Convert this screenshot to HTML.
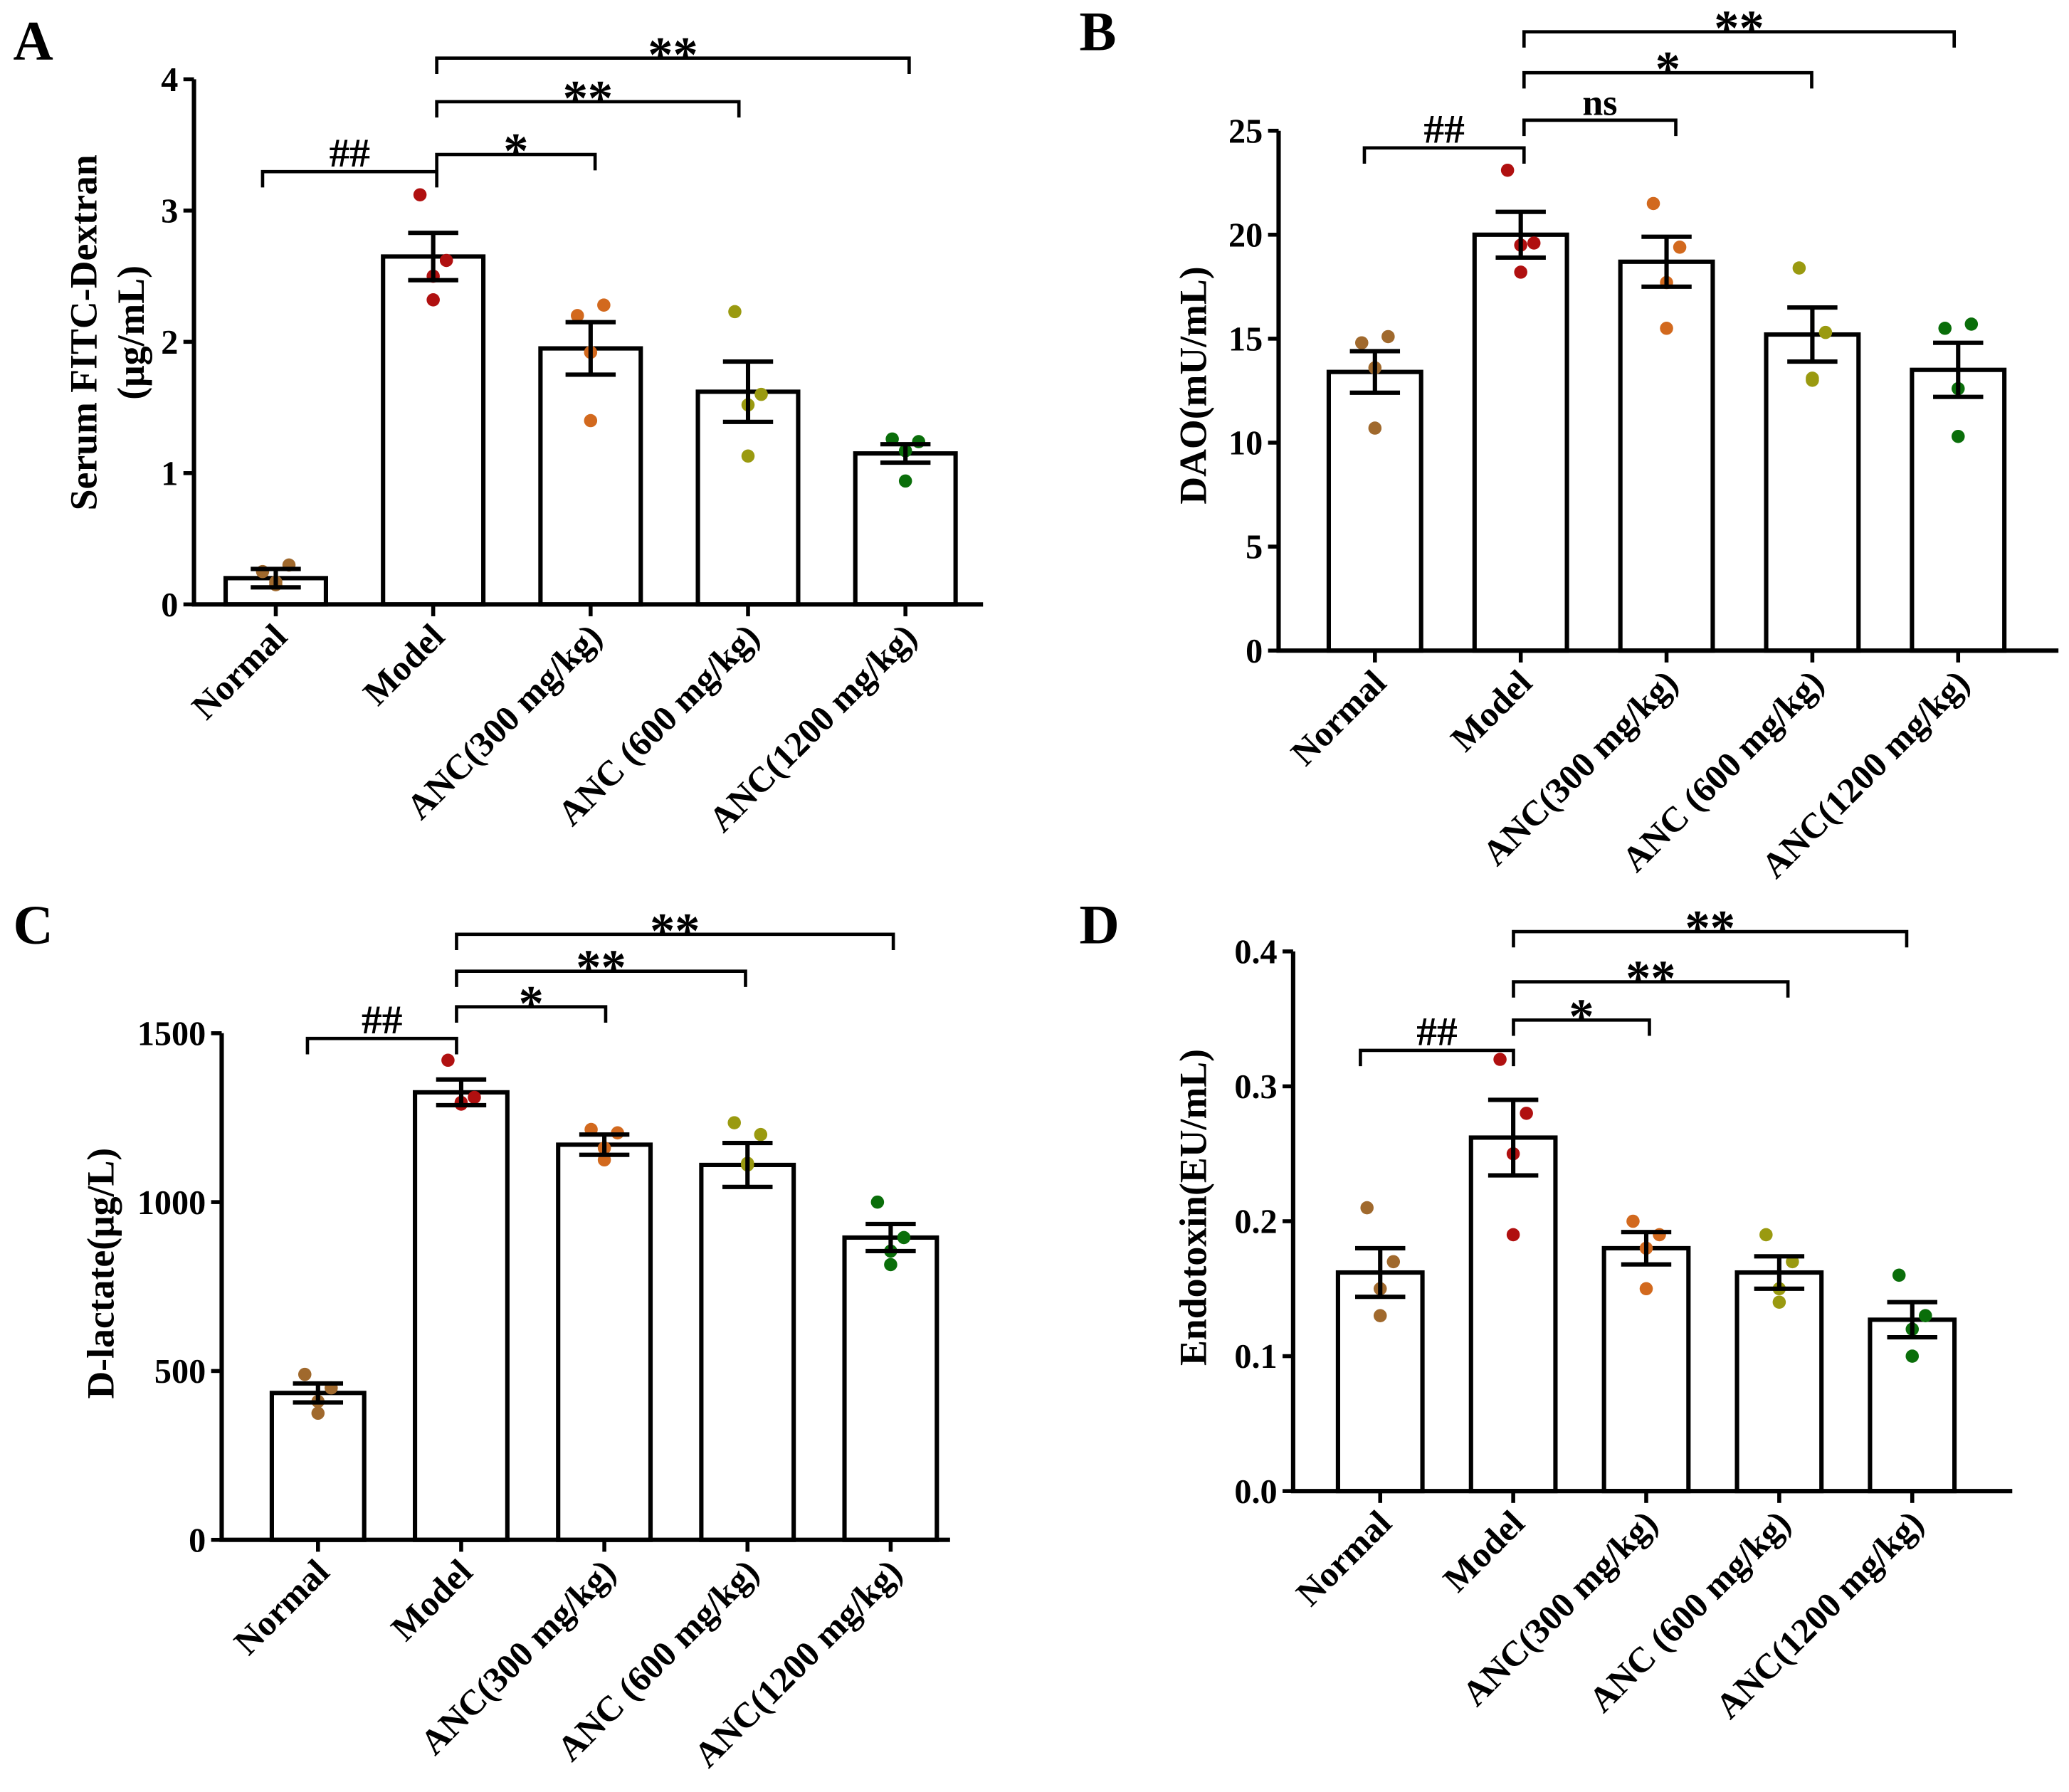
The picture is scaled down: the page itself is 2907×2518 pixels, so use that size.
<!DOCTYPE html>
<html><head><meta charset="utf-8"><style>
html,body{margin:0;padding:0;background:#fff;}
svg{display:block;font-family:"Liberation Serif",serif;font-weight:bold;}
</style></head><body>
<svg id="fig" width="2907" height="2518" viewBox="0 0 1568 1358" xmlns="http://www.w3.org/2000/svg"></svg>
<script>
const categories = ["Normal","Model","ANC(300 mg/kg)","ANC (600 mg/kg)","ANC(1200 mg/kg)"];
const colors = ["#a0692d","#b01010","#d2691e","#9a9a10","#0a6e0a"];

const aMeans = [0.2,2.65,1.95,1.62,1.15];
const aSem = [0.07,0.18,0.2,0.23,0.07];
const aPoints = [[0.25,0.3,0.17,0.15],[3.12,2.62,2.5,2.32],[2.2,2.28,1.92,1.4],[2.23,1.6,1.52,1.13],[1.26,1.24,1.17,0.94]];
const aTicks = [0,1,2,3,4];

const bMeans = [13.4,20,18.7,15.2,13.5];
const bSem = [1,1.1,1.2,1.3,1.3];
const bPoints = [[14.8,15.1,13.6,10.7],[23.1,19.6,19.5,18.2],[21.5,19.4,17.7,15.5],[18.4,15.3,13,13.1],[15.5,15.7,12.6,10.3]];
const bTicks = [0,5,10,15,20,25];

const cMeans = [435,1325,1170,1110,895];
const cSem = [28,38,30,65,40];
const cPoints = [[490,450,410,375],[1420,1310,1295,1290],[1215,1205,1160,1125],[1235,1200,1115,1110],[1000,895,855,815]];
const cTicks = [0,500,1000,1500];

const dMeans = [0.162,0.262,0.18,0.162,0.127];
const dSem = [0.018,0.028,0.012,0.012,0.013];
const dPoints = [[0.21,0.17,0.15,0.13],[0.32,0.28,0.25,0.19],[0.2,0.19,0.18,0.15],[0.19,0.17,0.15,0.14],[0.16,0.13,0.12,0.10]];
const dTicks = ["0.0","0.1","0.2","0.3","0.4"];

const svg = document.getElementById('fig');
const NS = "http://www.w3.org/2000/svg";
function mk(tag, attrs, parent){
  const e = document.createElementNS(NS, tag);
  for (const k in attrs) e.setAttribute(k, attrs[k]);
  (parent||svg).appendChild(e);
  return e;
}

function panel(cfg){
  const g = mk('g', {});
  
  
  const y = v => cfg.y0 - (v - cfg.min) / (cfg.max - cfg.min) * (cfg.y0 - cfg.yTop);
  const cx = i => cfg.c0 + cfg.step * i;
  const L = mk('text', {x: cfg.lx, y: cfg.ly, 'font-size': 42}, g);
  L.textContent = cfg.letter;
  
  
  cfg.means.forEach((m, i) => {
    const r = mk('rect', {x: cx(i) - cfg.bw/2, y: y(m), width: cfg.bw, height: cfg.y0 - y(m), fill: '#fff', stroke: '#000', 'stroke-width': 3.3}, g);
    
    
  });
  const offs = [-10, 10, 0, 0];
  cfg.points.forEach((ps, i) => {
    ps.forEach((p, j) => {
      const c = mk('circle', {cx: cx(i) + offs[j], cy: y(p), r: 5, fill: colors[i]}, g);
      
      
    });
  });
  cfg.means.forEach((m, i) => {
    const hi = y(m + cfg.sem[i]), lo = y(m - cfg.sem[i]);
    const e = mk('path', {d: `M${cx(i)},${hi}V${lo}M${cx(i)-19},${hi}H${cx(i)+19}M${cx(i)-19},${lo}H${cx(i)+19}`, stroke: '#000', 'stroke-width': 3.3, fill: 'none'}, g);
    
    
  });
  const ax = mk('path', {d: `M${cfg.x0},${cfg.yTop}V${cfg.y0}H${cfg.xEnd}`, stroke: '#000', 'stroke-width': 3.3, fill: 'none'}, g);
  
  
  cfg.ticks.forEach(t => {
    const ty = y(parseFloat(t));
    mk('line', {x1: cfg.x0 - 8, x2: cfg.x0, y1: ty, y2: ty, stroke: '#000', 'stroke-width': 3}, g);
    const tl = mk('text', {x: cfg.x0 - 12, y: ty + 9, 'font-size': 26, 'text-anchor': 'end'}, g);
    tl.textContent = t;
    
    
  });
  categories.forEach((c, i) => {
    mk('line', {x1: cx(i), x2: cx(i), y1: cfg.y0, y2: cfg.y0 + 9, stroke: '#000', 'stroke-width': 3}, g);
    const tx = cx(i) + 10, ty = cfg.y0 + 26;
    const cl = mk('text', {x: tx, y: ty, 'font-size': 27, 'text-anchor': 'end', transform: `rotate(-45 ${tx} ${ty})`}, g);
    cl.textContent = c;
    
    
  });
  cfg.ytitle.forEach((t, k) => {
    const yx = cfg.ytx + k * 36, yy = cfg.yty;
    const yt = mk('text', {x: yx, y: yy, 'font-size': 29, 'text-anchor': 'middle', transform: `rotate(-90 ${yx} ${yy})`}, g);
    yt.textContent = t;
    
    
  });
  cfg.brackets.forEach(b => {
    const p = mk('path', {d: `M${b[0]},${b[2]+12}V${b[2]}H${b[1]}V${b[2]+12}`, stroke: '#000', 'stroke-width': 2.5, fill: 'none'}, g);
    
    
    const isStar = b[3].indexOf('*') >= 0;
    const st = mk('text', {x: (b[0]+b[1])/2, y: b[2] - 4 + (isStar ? 14 : 0), 'font-size': isStar ? 38 : (b[3]==='ns' ? 28 : 31), 'text-anchor': 'middle'}, g);
    st.textContent = b[3];
    
    
  });
}

panel({letter:'A', lx:10, ly:45, x0:147, xEnd:745, y0:458, yTop:60, min:0, max:4, bw:76, c0:209, step:119.3,
  means:aMeans, sem:aSem, points:aPoints, ticks:aTicks, ytitle:['Serum FITC-Dextran','(μg/mL)'], ytx:73, yty:252,
  brackets:[[199,331,130,'##'],[331,451,117,'*'],[331,560,77,'**'],[331,689,44,'**']]});
panel({letter:'B', lx:818, ly:38, x0:969, xEnd:1560, y0:493, yTop:99, min:0, max:25, bw:70, c0:1042, step:110.5,
  means:bMeans, sem:bSem, points:bPoints, ticks:bTicks, ytitle:['DAO(mU/mL)'], ytx:914, yty:292,
  brackets:[[1034,1155,112,'##'],[1155,1270,91,'ns'],[1155,1373,55,'*'],[1155,1481,24,'**']]});
panel({letter:'C', lx:10, ly:715, x0:168, xEnd:720, y0:1167, yTop:783, min:0, max:1500, bw:70, c0:241, step:108.5,
  means:cMeans, sem:cSem, points:cPoints, ticks:cTicks, ytitle:['D-lactate(μg/L)'], ytx:86, yty:965,
  brackets:[[233,346,787,'##'],[346,459,763,'*'],[346,565,736,'**'],[346,677,708,'**']]});
panel({letter:'D', lx:818, ly:715, x0:980, xEnd:1525, y0:1130, yTop:721, min:0, max:0.4, bw:64, c0:1046, step:100.8,
  means:dMeans, sem:dSem, points:dPoints, ticks:dTicks, ytitle:['Endotoxin(EU/mL)'], ytx:914, yty:915,
  brackets:[[1031,1147,796,'##'],[1147,1250,773,'*'],[1147,1355,744,'**'],[1147,1445,706,'**']]});
</script>
</body></html>
